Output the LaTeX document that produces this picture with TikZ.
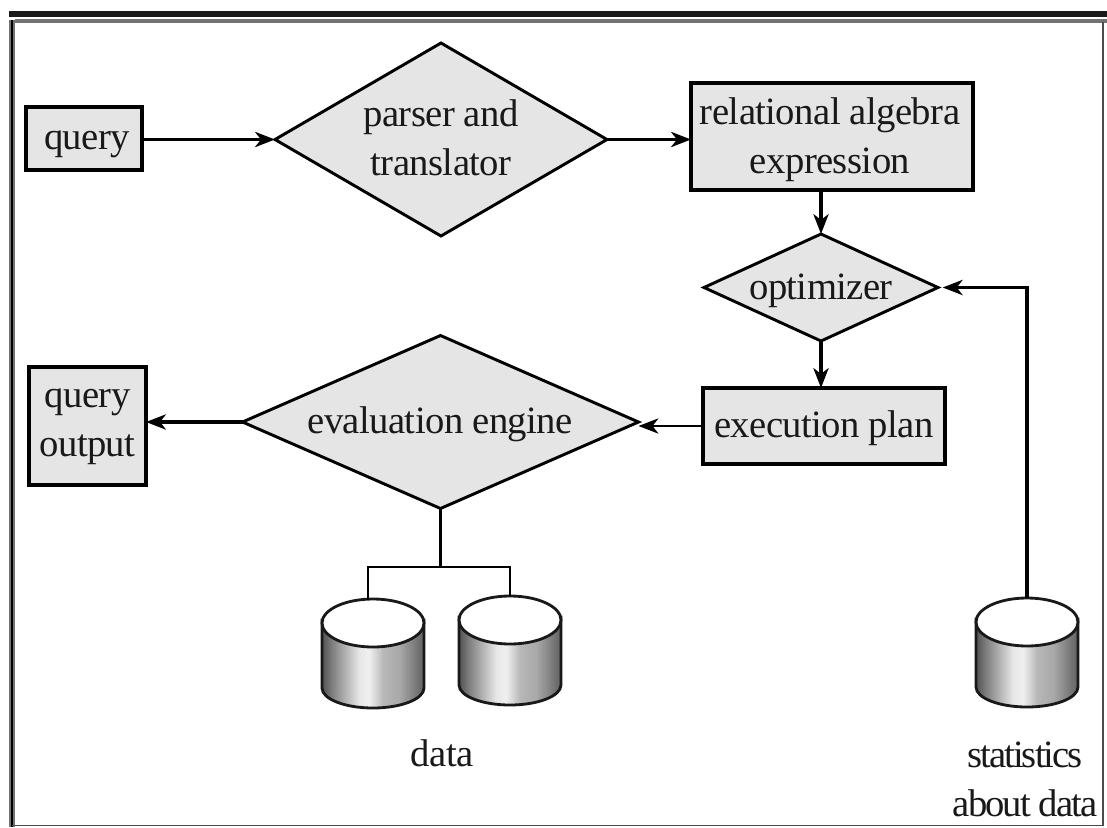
\documentclass[tikz,border=0pt]{standalone}
\usepackage{fontspec}
\setmainfont{Liberation Serif}
\usetikzlibrary{shapes.geometric,arrows.meta}
\pgfdeclarehorizontalshading{diskbody}{100bp}{color(0bp)=(black!68); color(25bp)=(black!68); color(30bp)=(black!50); color(43bp)=(black!10); color(48bp)=(black!6); color(55bp)=(black!28); color(63bp)=(black!34); color(75bp)=(black!62); color(100bp)=(black!62)}
\tikzset{
    boxnode/.style={draw, line width=2.7pt, fill=black!10, inner sep=0pt, outer sep=0pt, align=center},
    dianode/.style={draw, diamond, line width=2.5pt, fill=black!10, inner sep=0pt, outer sep=0pt},
    textnode/.style={inner sep=0pt, align=center, text=black!90, font=\fontsize{33}{42}\selectfont\addfontfeature{LetterSpace=-1.5}},
    flow/.style={line width=2.6pt, -{Stealth[length=17pt,width=13pt,inset=5pt]}},
    link/.style={line width=2pt},
    diskdraw/.style={draw=black!90, line width=2.4pt},
    disk/.pic={
        \path[diskdraw, shading=diskbody] (-51,-3) -- (51,-3) -- (51,65) arc[start angle=0, end angle=-180, x radius=51, y radius=-20] -- cycle;
        \draw[diskdraw, fill=white] (0,0) ellipse[x radius=51, y radius=24];
        \coordinate (-top) at (0,-24);
    }
}
\begin{document}
\begin{tikzpicture}[x=0.03cm, y=-0.03cm]
    \useasboundingbox (0,0) rectangle (1107,827);

    % Frame
    \draw[black!55, line width=5pt] (12,20) -- (12,827);
    \draw[black, line width=1.6pt] (12,20) -- (12,827);
    \draw[black!55, line width=3pt] (15,21) -- (1107,21);
    \draw[black!90, line width=5pt] (9,14) -- (1107,14);
    \draw[black!70, line width=1.6pt] (1103,22) -- (1103,825.5) -- (12,825.5);

    % Upper row
    \node[boxnode, minimum width=116*0.03cm, minimum height=63*0.03cm] (query) at (84,138.5) {};
    \node[textnode] (querytext) at (87,144) {query};
    \node[dianode, minimum width=332*0.03cm, minimum height=193*0.03cm] (parser) at (441,139.5) {};
    \node[textnode] (parsertext) at (441,138) {parser and\\translator};
    \node[boxnode, minimum width=282*0.03cm, minimum height=107*0.03cm] (relalg) at (832,136.5) {};
    \node[textnode] (relalgtext) at (830,139.5) {relational algebra\\expression};

    % Right column
    \node[dianode, minimum width=234*0.03cm, minimum height=107*0.03cm] (optimizer) at (821,287.5) {};
    \node[textnode] (optimizertext) at (821,291) {optimizer};
    \node[boxnode, minimum width=242*0.03cm, minimum height=76*0.03cm] (execplan) at (824,426) {};
    \node[textnode] (execplantext) at (824,428) {execution plan};

    % Lower row
    \node[dianode, minimum width=396*0.03cm, minimum height=173*0.03cm] (evalengine) at (440.5,422) {};
    \node[textnode] (evalenginetext) at (440,424) {evaluation engine};
    \node[boxnode, minimum width=117*0.03cm, minimum height=118*0.03cm] (output) at (87.5,426) {};
    \node[textnode] (outputtext) at (87.5,426.5) {query\\output};

    % Disks
    \pic (dataone) at (373,623) {disk};
    \pic (datatwo) at (510,620) {disk};
    \pic (stats) at (1027,622) {disk};
    \node[textnode] (datatext) at (442,753) {data};
    \node[textnode, font=\fontsize{33}{42}\selectfont\addfontfeature{LetterSpace=-5}] (statstext) at (1025,779) {statistics\\about data};

    % Connections
    \coordinate (branch) at (440.5,567);
    \coordinate (oneport) at (368,600);
    \coordinate (statcorner) at (1027,287.5);
    \draw[flow] (query.east |- parser.west) -- (parser.west);
    \draw[flow] (parser.east) -- (relalg.west |- parser.east);
    \draw[flow] (optimizer.north |- relalg.south) -- (optimizer.north);
    \draw[flow] (optimizer.south) -- (optimizer.south |- execplan.north);
    \draw[flow, line width=2pt] (execplan.west) -- (evalengine.east |- execplan.west);
    \draw[flow] (evalengine.west) -- (output.east |- evalengine.west);
    \draw[link] (evalengine.south) -- (branch);
    \draw[link] (branch) -| (oneport);
    \draw[link] (branch) -| (datatwo-top);
    \draw[flow, shorten >=4pt] (stats-top) -- (statcorner) -- (optimizer.east);
\end{tikzpicture}
\end{document}
